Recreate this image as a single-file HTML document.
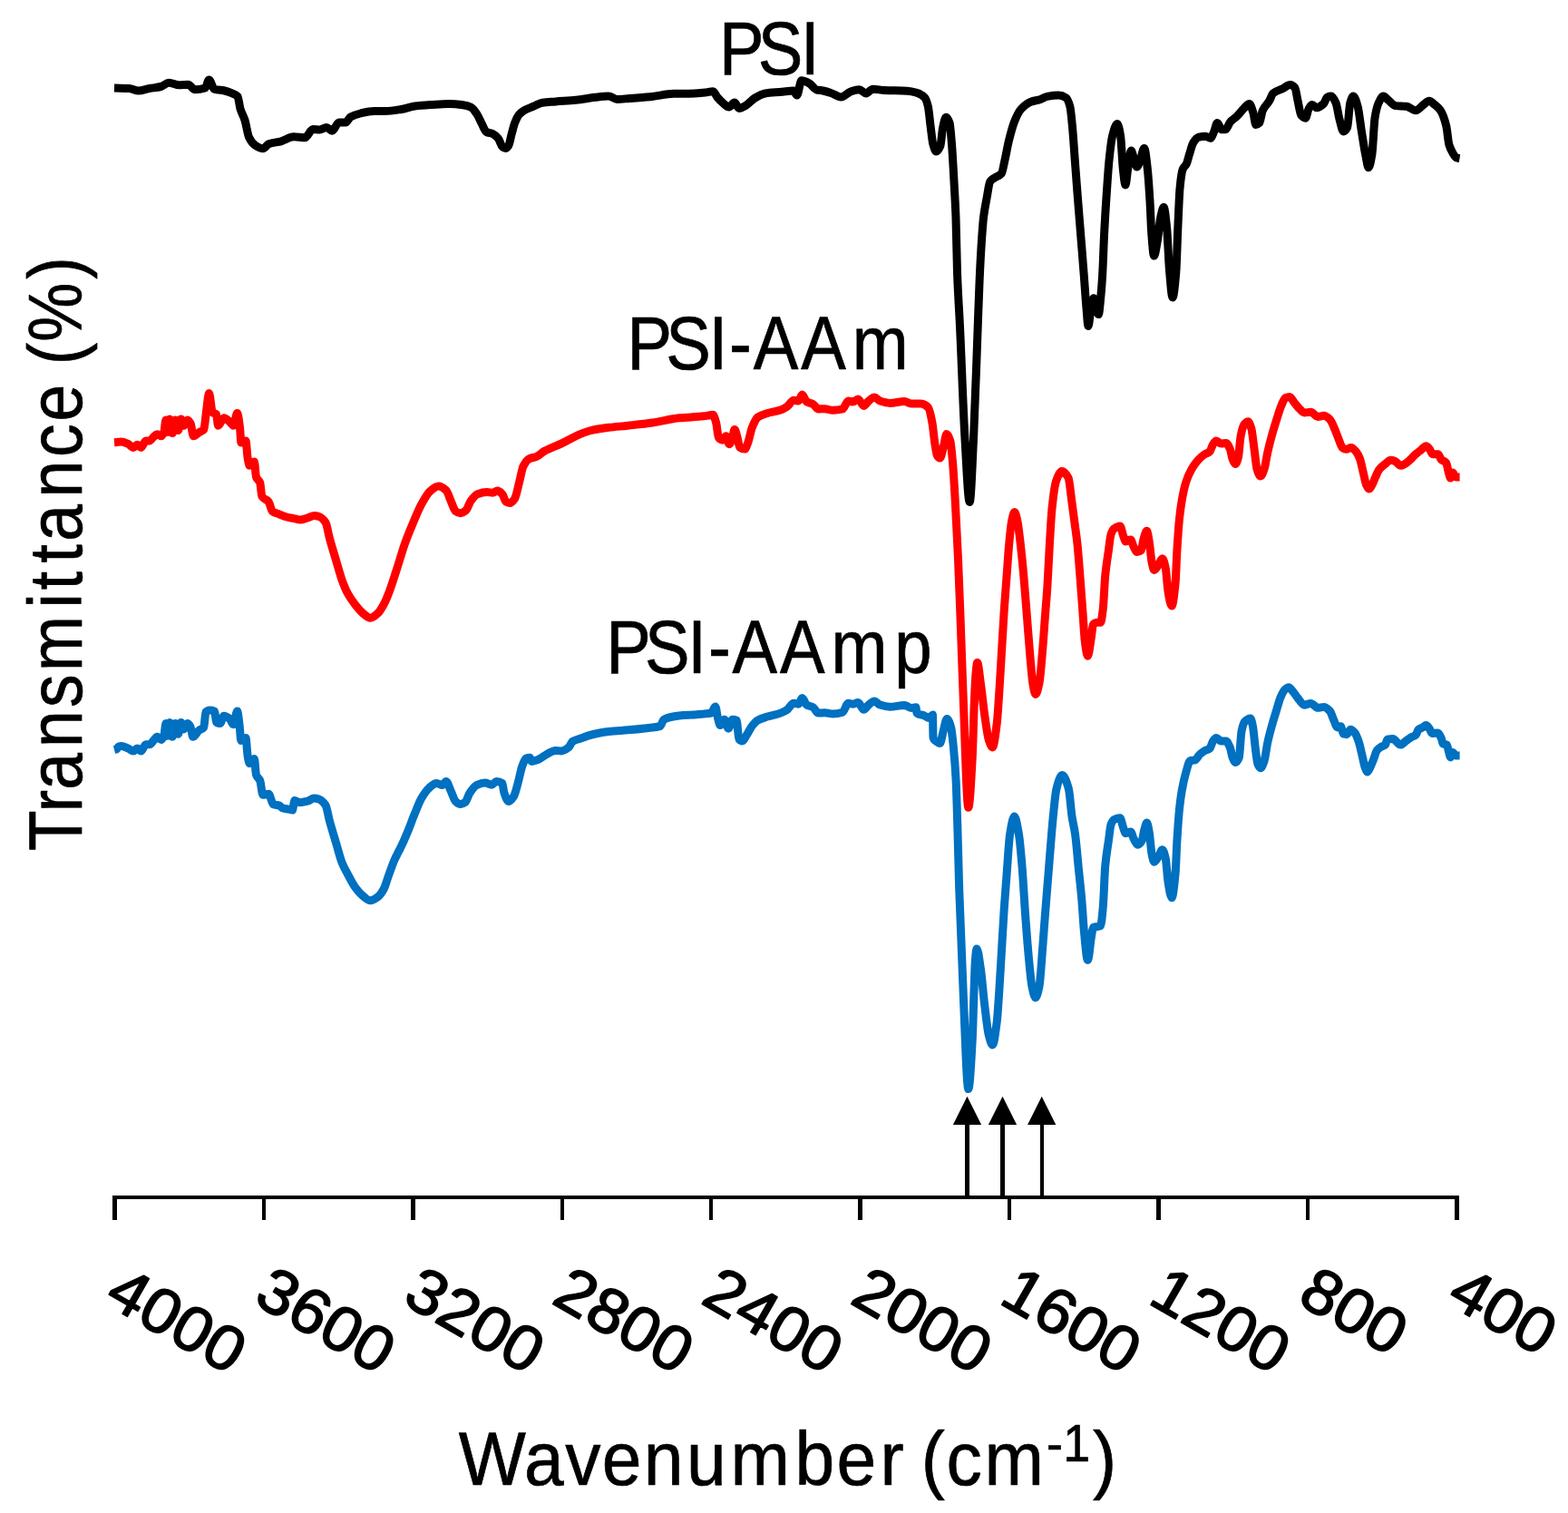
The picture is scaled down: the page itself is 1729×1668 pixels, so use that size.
<!DOCTYPE html>
<html lang="en"><head><meta charset="utf-8"><title>FTIR spectra</title>
<style>html,body{margin:0;padding:0;background:#fff;width:1729px;height:1668px}svg{display:block}text{font-family:"Liberation Sans",sans-serif;fill:#000}</style></head><body>
<svg width="1729" height="1668" viewBox="0 0 1729 1668">
<rect width="1729" height="1668" fill="#fff"/>
<path d="M126.0,826.5C126.8,826.3 127.7,826.3 128.5,826.0C129.3,825.7 130.2,823.3 131.0,823.0C131.9,822.7 132.7,822.4 133.6,822.4C136.0,822.4 138.5,823.9 140.9,824.9C143.0,825.8 145.1,828.1 147.2,828.1C148.6,828.1 150.0,824.9 151.4,824.9C152.8,824.9 154.2,828.1 155.6,828.1C157.3,828.1 159.1,820.7 160.8,820.7C162.2,820.7 163.6,820.7 165.0,820.7C166.4,820.7 167.8,817.9 169.2,816.5C170.6,815.1 172.0,812.3 173.4,812.3C174.8,812.3 176.2,815.5 177.6,815.5C178.7,815.5 179.7,813.7 180.8,811.3C181.5,809.7 182.2,797.6 182.9,797.6C183.6,797.6 184.3,811.3 185.0,811.3C185.7,811.3 186.4,796.6 187.1,796.6C188.1,796.6 189.2,812.3 190.2,812.3C191.3,812.3 192.3,797.6 193.4,797.6C194.4,797.6 195.5,809.2 196.5,809.2C197.6,809.2 198.6,796.6 199.7,796.6C200.7,796.6 201.8,803.9 202.8,803.9C204.2,803.9 205.6,797.6 207.0,797.6C208.1,797.6 209.1,799.6 210.2,801.8C211.0,803.5 211.9,812.3 212.7,812.3C215.0,812.3 217.3,806.8 219.6,805.0C221.3,803.7 223.1,804.1 224.8,801.8C225.5,800.9 226.2,785.7 226.9,785.0C228.3,783.5 229.7,782.9 231.1,782.9C232.9,782.9 234.6,783.2 236.4,784.0C237.2,784.4 238.1,796.2 238.9,796.6C240.2,797.3 241.4,797.6 242.7,797.6C244.1,797.6 245.5,789.2 246.9,789.2C249.0,789.2 251.1,790.8 253.2,792.4C254.6,793.5 256.0,798.7 257.4,798.7C258.8,798.7 260.2,784.0 261.6,784.0C262.4,784.0 263.3,793.2 264.1,799.7C264.7,804.1 265.2,816.5 265.8,816.5C267.5,816.5 269.3,813.4 271.0,813.4C271.7,813.4 272.4,829.4 273.1,833.3C273.8,837.2 274.5,841.7 275.2,841.7C276.9,841.7 278.7,836.5 280.4,836.5C281.1,836.5 281.8,852.4 282.5,854.3C283.9,858.2 285.3,857.3 286.7,860.6C287.8,863.1 288.8,876.3 289.9,876.3C292.0,876.3 294.1,875.3 296.2,875.3C297.9,875.3 299.7,886.2 301.4,886.8C303.5,887.5 305.6,887.3 307.7,887.9C309.1,888.3 310.5,890.6 311.9,891.0C314.0,891.6 316.1,891.7 318.2,892.1C319.6,892.4 321.0,893.1 322.4,893.1C323.2,893.1 324.1,882.6 324.9,882.6C326.9,882.6 328.8,884.7 330.8,884.7C333.6,884.7 336.4,883.9 339.2,883.2C341.6,882.6 344.1,879.9 346.5,879.9C348.3,879.9 350.0,880.5 351.8,881.1C354.2,882.0 356.7,884.0 359.1,887.9C360.5,890.1 361.9,899.4 363.3,904.6C365.8,913.7 368.2,921.5 370.7,929.8C372.8,936.9 374.9,945.5 377.0,950.8C379.1,956.0 381.1,959.5 383.2,963.4C386.0,968.7 388.8,974.3 391.6,978.1C394.4,981.9 397.2,985.2 400.0,987.5C402.8,989.8 405.6,992.8 408.4,992.8C411.2,992.8 414.0,990.7 416.8,988.6C418.9,987.0 421.0,984.0 423.1,980.2C424.9,977.0 426.6,970.3 428.4,965.5C430.7,959.4 432.9,952.6 435.2,947.5C436.6,944.3 438.0,941.9 439.4,939.1C440.8,936.3 442.2,933.7 443.6,930.7C445.7,926.2 447.8,921.1 449.9,916.0C452.4,910.0 454.8,903.1 457.3,897.1C459.7,891.2 462.2,884.5 464.6,880.3C467.4,875.5 470.2,871.2 473.0,868.8C475.8,866.4 478.6,863.5 481.4,863.5C483.5,863.5 485.6,865.6 487.7,865.6C489.1,865.6 490.5,861.4 491.9,861.4C493.6,861.4 495.4,868.3 497.1,871.9C498.9,875.6 500.6,881.8 502.4,883.5C504.1,885.1 505.9,886.6 507.6,886.6C509.4,886.6 511.1,885.7 512.9,884.5C514.6,883.3 516.4,876.6 518.1,874.0C520.6,870.4 523.0,866.7 525.5,865.6C528.6,864.2 531.8,863.1 534.9,863.1C537.4,863.1 539.8,865.2 542.3,865.2C544.0,865.2 545.8,861.4 547.5,861.4C549.6,861.4 551.7,862.0 553.8,863.5C554.5,864.0 555.2,872.0 555.9,874.0C557.6,879.0 559.4,883.5 561.1,883.5C562.9,883.5 564.6,880.9 566.4,878.2C568.1,875.5 569.9,867.6 571.6,861.4C573.0,856.4 574.4,848.3 575.8,844.6C577.2,840.9 578.6,836.8 580.0,836.2C581.4,835.6 582.8,835.2 584.2,835.2C584.9,835.2 585.6,839.4 586.3,839.4C588.8,839.4 591.2,838.3 593.7,837.3C596.5,836.2 599.2,833.6 602.0,832.1C605.5,830.3 609.0,827.4 612.5,827.4C614.6,827.4 616.7,827.9 618.8,827.9C621.6,827.9 624.4,825.9 627.2,823.7C628.6,822.6 630.0,818.3 631.4,817.4C634.2,815.6 637.0,815.2 639.8,814.2C644.0,812.7 648.2,811.0 652.4,810.0C658.7,808.5 665.0,807.2 671.3,806.5C678.3,805.7 685.3,805.4 692.3,804.8C699.3,804.2 706.3,803.5 713.3,802.7C718.2,802.1 723.0,802.1 727.9,800.6C729.3,800.2 730.7,793.9 732.1,793.2C737.7,790.3 743.3,789.6 748.9,789.0C754.5,788.4 760.1,788.3 765.7,787.9C769.2,787.6 772.7,787.3 776.2,787.0C778.9,786.7 781.6,786.7 784.3,786.1C785.8,785.8 787.3,778.9 788.8,778.9C789.7,778.9 790.6,788.2 791.5,791.5C792.4,794.8 793.3,799.6 794.2,799.6C795.7,799.6 797.2,793.3 798.7,793.3C800.2,793.3 801.7,803.2 803.2,803.2C804.7,803.2 806.2,793.3 807.7,793.3C809.2,793.3 810.7,793.6 812.2,794.2C813.1,794.6 814.0,813.8 814.9,814.9C816.1,816.3 817.3,817.1 818.5,817.1C820.3,817.1 822.0,812.2 823.8,809.5C825.6,806.7 827.4,802.8 829.2,800.5C831.3,797.9 833.4,795.4 835.5,794.2C839.1,792.1 842.7,791.3 846.3,790.1C851.1,788.5 855.9,787.9 860.7,786.1C863.1,785.2 865.5,784.1 867.9,782.5C870.3,780.9 872.7,775.3 875.1,775.3C876.9,775.3 878.7,776.2 880.5,776.2C881.8,776.2 883.2,769.4 884.5,769.4C886.2,769.4 887.8,776.1 889.5,777.1C891.9,778.6 894.3,778.4 896.7,779.8C898.5,780.8 900.3,786.1 902.1,786.1C904.5,786.1 906.9,785.8 909.3,785.8C912.3,785.8 915.3,787.0 918.3,787.0C921.9,787.0 925.5,786.4 929.1,785.2C931.2,784.5 933.3,775.3 935.4,775.3C937.2,775.3 939.0,776.2 940.8,776.2C942.6,776.2 944.4,774.4 946.2,774.4C948.3,774.4 950.3,782.2 952.4,782.2C954.2,782.2 956.0,778.5 957.8,777.1C959.9,775.5 962.0,773.0 964.1,773.0C966.2,773.0 968.3,776.4 970.4,777.1C974.0,778.3 977.6,779.3 981.2,779.3C986.6,779.3 992.0,777.5 997.4,777.5C999.8,777.5 1002.2,780.4 1004.6,780.4C1006.4,780.4 1008.2,779.8 1010.0,779.8C1010.3,779.8 1010.6,785.8 1010.9,786.1C1013.6,788.4 1016.3,787.7 1019.0,788.8C1020.8,789.5 1022.6,791.5 1024.4,791.5C1025.8,791.5 1027.1,788.0 1028.5,788.0C1028.7,788.0 1028.8,812.5 1029.0,813.1C1029.9,816.1 1030.7,816.0 1031.6,816.7C1033.2,818.0 1034.9,819.4 1036.5,819.4C1037.7,819.4 1039.0,810.2 1040.2,805.9C1041.5,801.2 1042.9,792.4 1044.2,792.4C1045.7,792.4 1047.2,796.9 1048.7,802.3C1049.6,805.6 1050.5,814.9 1051.4,823.9C1052.3,832.9 1053.2,842.9 1054.1,859.9C1054.7,871.3 1055.3,894.0 1055.9,913.8C1056.5,933.6 1057.1,961.4 1057.7,980.0C1059.3,1028.5 1060.8,1066.0 1062.4,1099.9C1064.2,1138.8 1066.0,1200.6 1067.8,1200.6C1069.3,1200.6 1070.8,1172.8 1072.3,1144.8C1072.9,1133.6 1073.5,1107.3 1074.1,1090.9C1074.5,1079.9 1074.9,1065.3 1075.3,1060.3C1075.9,1052.7 1076.5,1045.9 1077.1,1045.9C1078.5,1045.9 1079.9,1058.3 1081.3,1067.5C1082.8,1077.4 1084.3,1096.7 1085.8,1108.8C1087.3,1120.9 1088.8,1135.5 1090.3,1141.2C1091.7,1146.4 1093.0,1152.0 1094.4,1152.0C1096.0,1152.0 1097.6,1139.4 1099.2,1126.8C1100.1,1119.7 1101.0,1104.2 1101.9,1090.9C1102.8,1077.6 1103.7,1060.9 1104.6,1045.9C1105.5,1030.9 1106.4,1014.2 1107.3,1000.9C1108.2,987.6 1109.1,976.6 1110.0,965.0C1111.2,949.5 1112.4,927.6 1113.6,920.0C1115.2,909.7 1116.9,900.0 1118.5,900.0C1120.2,900.0 1121.8,910.2 1123.5,920.0C1124.7,927.0 1125.9,941.6 1127.1,956.0C1128.3,970.4 1129.5,993.6 1130.7,1009.9C1131.9,1026.2 1133.1,1042.3 1134.3,1054.9C1135.5,1067.5 1136.7,1081.7 1137.9,1087.3C1139.2,1093.6 1140.6,1099.9 1141.9,1099.9C1143.3,1099.9 1144.6,1094.0 1146.0,1087.3C1147.2,1081.4 1148.4,1060.8 1149.6,1045.9C1150.5,1034.7 1151.4,1021.5 1152.3,1009.9C1153.5,994.4 1154.7,980.0 1155.9,965.0C1157.1,950.0 1158.3,934.0 1159.5,920.0C1160.1,913.0 1160.7,905.8 1161.3,900.0C1162.5,888.3 1163.7,874.6 1164.9,869.8C1167.0,861.5 1169.1,854.5 1171.2,854.5C1173.6,854.5 1176.0,861.1 1178.4,869.8C1179.6,874.2 1180.8,892.0 1182.0,900.0C1183.2,908.0 1184.4,911.4 1185.6,920.0C1186.8,928.6 1188.0,944.0 1189.2,956.0C1190.4,968.0 1191.6,978.1 1192.8,991.9C1193.7,1002.2 1194.6,1018.9 1195.5,1027.9C1196.8,1040.9 1198.1,1058.5 1199.4,1058.5C1200.8,1058.5 1202.2,1039.2 1203.6,1031.5C1204.2,1028.2 1204.8,1022.8 1205.4,1022.5C1206.9,1021.8 1208.4,1021.9 1209.9,1021.6C1211.1,1021.3 1212.3,1021.3 1213.5,1020.7C1214.4,1020.2 1215.3,1010.3 1216.2,1000.9C1217.1,991.8 1217.9,963.2 1218.8,953.8C1220.0,940.8 1221.2,935.2 1222.4,926.8C1223.3,920.5 1224.2,911.0 1225.1,908.8C1226.3,905.8 1227.5,904.1 1228.7,903.5C1230.8,902.4 1232.9,901.7 1235.0,901.7C1236.2,901.7 1237.4,909.3 1238.6,912.4C1239.5,914.7 1240.4,918.7 1241.3,918.7C1243.1,918.7 1244.9,916.9 1246.7,916.9C1247.9,916.9 1249.1,922.9 1250.3,925.0C1251.8,927.6 1253.2,931.3 1254.7,931.3C1256.2,931.3 1257.7,929.4 1259.2,926.8C1260.1,925.2 1261.0,917.2 1261.9,914.2C1262.8,911.2 1263.7,907.1 1264.6,907.1C1265.5,907.1 1266.4,912.9 1267.3,917.8C1268.2,922.7 1269.1,936.9 1270.0,941.2C1270.9,945.5 1271.8,950.2 1272.7,950.2C1274.2,950.2 1275.7,947.0 1277.2,944.8C1278.7,942.6 1280.2,936.7 1281.7,936.7C1282.9,936.7 1284.1,941.4 1285.3,946.6C1286.2,950.5 1287.1,966.2 1288.0,971.8C1289.3,980.1 1290.7,989.8 1292.0,989.8C1293.4,989.8 1294.7,977.3 1296.1,962.8C1296.7,956.4 1297.3,936.5 1297.9,926.8C1298.8,912.2 1299.7,899.4 1300.6,890.9C1301.5,882.4 1302.4,876.2 1303.3,871.1C1304.8,862.7 1306.3,856.4 1307.8,851.3C1309.3,846.2 1310.8,839.2 1312.3,838.7C1314.1,838.1 1315.9,838.3 1317.7,837.8C1319.5,837.3 1321.3,833.1 1323.1,831.5C1324.9,829.9 1326.7,828.6 1328.5,827.6C1330.3,826.6 1332.1,826.6 1333.9,825.2C1335.1,824.3 1336.3,818.8 1337.5,817.1C1338.7,815.4 1339.9,813.5 1341.1,813.5C1342.9,813.5 1344.7,817.1 1346.5,817.1C1348.3,817.1 1350.1,817.1 1351.9,817.1C1353.4,817.1 1354.9,820.7 1356.4,824.3C1357.3,826.4 1358.2,832.9 1359.1,835.1C1360.2,837.7 1361.2,840.5 1362.3,840.5C1363.6,840.5 1365.0,838.5 1366.3,835.1C1367.2,832.8 1368.1,810.6 1369.0,806.3C1370.2,800.5 1371.4,796.7 1372.6,795.5C1374.7,793.4 1376.7,791.9 1378.8,791.9C1379.7,791.9 1380.6,796.6 1381.5,800.9C1382.4,805.2 1383.3,817.5 1384.2,824.3C1385.1,831.1 1386.0,840.1 1386.9,842.3C1387.9,844.8 1389.0,846.8 1390.0,846.8C1391.4,846.8 1392.7,842.7 1394.1,838.7C1395.3,835.2 1396.5,824.5 1397.7,818.9C1399.2,811.9 1400.7,806.4 1402.2,800.9C1404.0,794.3 1405.8,788.8 1407.6,782.9C1409.1,778.0 1410.6,772.0 1412.1,768.6C1413.6,765.2 1415.1,761.9 1416.6,760.5C1418.1,759.1 1419.6,757.8 1421.1,757.8C1422.6,757.8 1424.1,760.6 1425.6,762.3C1427.4,764.3 1429.2,767.4 1431.0,769.5C1433.4,772.4 1435.8,777.2 1438.2,777.2C1440.6,777.2 1443.0,775.4 1445.4,775.4C1448.0,775.4 1450.6,780.3 1453.2,780.3C1455.4,780.3 1457.6,779.4 1459.8,779.4C1462.0,779.4 1464.2,781.5 1466.4,783.9C1467.8,785.4 1469.2,790.5 1470.6,793.5C1472.0,796.5 1473.4,801.9 1474.8,801.9C1476.0,801.9 1477.2,800.7 1478.4,800.7C1479.4,800.7 1480.4,808.8 1481.4,809.1C1482.6,809.5 1483.8,809.7 1485.0,809.7C1486.4,809.7 1487.8,804.3 1489.2,804.3C1490.8,804.3 1492.4,806.1 1494.0,807.9C1495.4,809.5 1496.8,813.4 1498.2,817.5C1499.4,821.0 1500.6,827.0 1501.8,831.9C1503.0,836.6 1504.1,843.2 1505.3,846.3C1506.1,848.4 1506.9,851.1 1507.7,851.1C1508.7,851.1 1509.7,848.2 1510.7,846.3C1511.9,844.0 1513.1,840.8 1514.3,837.9C1515.7,834.5 1517.1,828.9 1518.5,827.1C1519.9,825.3 1521.3,824.4 1522.7,823.5C1524.3,822.5 1525.9,822.5 1527.5,821.1C1528.3,820.4 1529.1,815.3 1529.9,815.1C1531.9,814.7 1533.9,814.5 1535.9,814.5C1538.7,814.5 1541.5,821.1 1544.3,821.1C1546.3,821.1 1548.3,818.3 1550.3,816.9C1552.3,815.5 1554.3,813.9 1556.3,812.7C1557.9,811.8 1559.5,811.6 1561.1,810.3C1562.1,809.5 1563.1,805.1 1564.1,804.3C1565.7,803.0 1567.3,802.8 1568.9,801.9C1570.1,801.2 1571.3,799.5 1572.5,799.5C1573.7,799.5 1574.9,801.5 1576.1,803.1C1577.1,804.4 1578.1,808.5 1579.1,808.5C1581.1,808.5 1583.1,807.9 1585.1,807.9C1586.5,807.9 1587.9,810.9 1589.3,813.9C1589.9,815.2 1590.5,819.5 1591.1,819.9C1592.5,820.7 1593.9,820.3 1595.3,821.1C1596.1,821.6 1596.9,826.9 1597.7,829.5C1598.3,831.4 1598.9,834.9 1599.5,834.9C1600.3,834.9 1601.1,829.5 1601.9,829.5C1602.9,829.5 1603.9,832.6 1604.9,832.8C1605.6,833.0 1606.3,833.1 1607.0,833.1C1607.9,833.1 1608.7,833.1 1609.6,833.1" fill="none" stroke="#0070c0" stroke-width="9.00" stroke-linejoin="round" stroke-linecap="butt"/>
<path d="M126.0,487.7C128.5,487.5 131.1,487.1 133.6,487.1C136.0,487.1 138.5,488.2 140.9,489.2C143.0,490.1 145.1,493.4 147.2,493.4C148.6,493.4 150.0,490.2 151.4,490.2C152.8,490.2 154.2,493.4 155.6,493.4C157.3,493.4 159.1,486.0 160.8,486.0C162.2,486.0 163.6,486.0 165.0,486.0C166.4,486.0 167.8,483.0 169.2,481.8C170.6,480.6 172.0,478.7 173.4,478.7C174.8,478.7 176.2,480.8 177.6,480.8C178.7,480.8 179.7,479.0 180.8,476.6C181.5,475.0 182.2,462.9 182.9,462.9C183.6,462.9 184.3,476.6 185.0,476.6C185.7,476.6 186.4,461.9 187.1,461.9C188.1,461.9 189.2,477.6 190.2,477.6C191.3,477.6 192.3,462.9 193.4,462.9C194.4,462.9 195.5,474.5 196.5,474.5C197.6,474.5 198.6,461.9 199.7,461.9C200.7,461.9 201.8,469.2 202.8,469.2C204.2,469.2 205.6,462.9 207.0,462.9C208.1,462.9 209.1,464.9 210.2,467.1C211.2,469.2 212.3,480.8 213.3,480.8C215.4,480.8 217.5,477.9 219.6,476.6C221.3,475.5 223.1,475.6 224.8,473.4C225.7,472.2 226.7,459.0 227.6,452.5C228.6,445.8 229.5,433.6 230.5,433.6C231.8,433.6 233.0,453.4 234.3,454.6C235.7,455.9 237.1,455.3 238.5,456.7C239.2,457.4 239.9,469.2 240.6,469.2C242.7,469.2 244.8,460.8 246.9,460.8C249.0,460.8 251.1,463.3 253.2,465.0C254.6,466.1 256.0,469.2 257.4,469.2C258.8,469.2 260.2,455.6 261.6,455.6C262.6,455.6 263.7,464.5 264.7,473.4C265.1,476.5 265.4,488.1 265.8,488.1C267.5,488.1 269.3,486.0 271.0,486.0C271.7,486.0 272.4,501.0 273.1,504.9C273.8,508.8 274.5,513.3 275.2,513.3C276.9,513.3 278.7,509.1 280.4,509.1C281.1,509.1 281.8,524.0 282.5,525.9C283.9,529.7 285.3,528.5 286.7,532.2C287.4,534.1 288.1,545.7 288.8,546.9C291.3,551.3 293.7,549.9 296.2,553.2C297.6,555.1 299.0,562.6 300.4,563.7C302.8,565.6 305.3,565.8 307.7,566.8C310.5,567.9 313.3,569.3 316.1,570.0C318.9,570.7 321.7,571.0 324.5,571.6C326.6,572.0 328.7,573.1 330.8,573.1C333.6,573.1 336.4,571.8 339.2,571.0C341.6,570.3 344.1,568.5 346.5,568.5C348.3,568.5 350.0,569.0 351.8,569.5C354.2,570.2 356.7,572.4 359.1,576.2C360.5,578.4 361.9,587.8 363.3,593.0C365.8,602.1 368.2,609.9 370.7,618.2C372.8,625.3 374.9,633.4 377.0,639.2C379.1,644.9 381.1,650.1 383.2,653.9C386.0,659.1 388.8,662.9 391.6,666.5C394.4,670.1 397.2,673.6 400.0,675.9C402.8,678.2 405.6,681.2 408.4,681.2C411.2,681.2 414.0,678.4 416.8,675.9C418.9,674.0 421.0,670.3 423.1,666.5C425.2,662.7 427.3,657.3 429.4,651.8C432.2,644.5 435.0,635.2 437.8,626.6C440.8,617.4 443.8,606.6 446.8,598.2C449.6,590.4 452.4,583.8 455.2,577.2C458.3,569.8 461.5,561.9 464.6,556.2C467.8,550.4 470.9,544.4 474.1,541.6C477.2,538.9 480.4,535.9 483.5,535.9C486.3,535.9 489.1,537.9 491.9,540.5C493.6,542.1 495.4,548.3 497.1,552.1C498.9,556.0 500.6,562.4 502.4,563.6C504.1,564.8 505.9,565.7 507.6,565.7C509.7,565.7 511.8,564.2 513.9,562.5C515.7,561.0 517.4,554.5 519.2,552.1C521.6,548.8 524.1,545.5 526.5,544.7C530.0,543.5 533.5,542.6 537.0,542.6C539.1,542.6 541.2,543.2 543.3,543.2C545.0,543.2 546.8,541.1 548.5,541.1C550.3,541.1 552.0,542.9 553.8,544.7C555.2,546.1 556.6,552.3 558.0,553.1C559.4,553.9 560.8,554.6 562.2,554.6C563.9,554.6 565.7,552.5 567.4,550.0C569.2,547.5 570.9,537.8 572.7,531.1C574.1,525.8 575.5,517.2 576.9,514.3C579.0,510.0 581.1,507.0 583.2,505.9C586.0,504.5 588.8,504.6 591.6,503.4C594.4,502.2 597.2,499.1 600.0,497.5C606.3,494.0 612.5,492.1 618.8,489.1C625.8,485.8 632.8,481.4 639.8,478.6C644.0,476.9 648.2,475.3 652.4,474.4C658.7,473.0 665.0,472.1 671.3,471.3C678.3,470.4 685.3,470.0 692.3,469.2C701.4,468.2 710.5,467.3 719.6,466.0C729.4,464.6 739.1,461.8 748.9,460.8C758.0,459.9 767.1,459.8 776.2,458.8C779.5,458.5 782.8,457.3 786.1,457.3C787.3,457.3 788.5,462.0 789.7,466.3C790.6,469.5 791.5,481.4 792.4,482.5C793.9,484.3 795.4,485.2 796.9,485.2C798.1,485.2 799.3,480.7 800.5,480.7C801.7,480.7 802.9,489.7 804.1,489.7C805.3,489.7 806.5,485.8 807.7,482.5C808.5,480.4 809.2,473.5 810.0,473.5C811.0,473.5 812.1,479.0 813.1,482.5C814.0,485.5 814.9,492.7 815.8,493.3C817.6,494.5 819.4,495.1 821.2,495.1C822.4,495.1 823.6,491.0 824.8,487.9C826.3,484.1 827.7,475.4 829.2,471.7C831.3,466.4 833.4,461.5 835.5,460.0C839.1,457.4 842.7,456.6 846.3,455.5C851.1,454.0 855.9,453.6 860.7,452.0C863.1,451.2 865.5,449.9 867.9,448.3C870.3,446.7 872.7,441.2 875.1,441.2C876.9,441.2 878.7,442.1 880.5,442.1C881.8,442.1 883.2,434.9 884.5,434.9C886.2,434.9 887.8,441.8 889.5,442.9C891.9,444.4 894.3,444.3 896.7,445.6C898.5,446.6 900.3,451.0 902.1,451.0C904.5,451.0 906.9,450.7 909.3,450.7C912.3,450.7 915.3,452.3 918.3,452.3C921.9,452.3 925.5,451.9 929.1,451.0C931.2,450.5 933.3,442.1 935.4,442.1C937.2,442.1 939.0,442.9 940.8,442.9C942.6,442.9 944.4,439.9 946.2,439.9C948.3,439.9 950.3,447.4 952.4,447.4C954.2,447.4 956.0,443.5 957.8,442.1C959.9,440.4 962.0,437.9 964.1,437.9C966.2,437.9 968.3,441.4 970.4,442.1C974.0,443.3 977.6,444.4 981.2,444.4C986.6,444.4 992.0,442.6 997.4,442.6C999.8,442.6 1002.2,445.1 1004.6,445.1C1008.2,445.1 1011.8,445.1 1015.4,445.1C1018.1,445.1 1020.8,446.6 1023.5,449.2C1025.0,450.6 1026.5,458.3 1028.0,466.3C1028.9,471.1 1029.8,482.1 1030.7,487.9C1031.6,493.7 1032.5,500.9 1033.4,502.3C1034.4,503.9 1035.5,505.0 1036.5,505.0C1037.9,505.0 1039.2,496.5 1040.6,491.5C1041.7,487.6 1042.7,478.6 1043.8,478.6C1045.1,478.6 1046.5,481.8 1047.8,486.1C1048.7,489.0 1049.6,499.5 1050.5,509.5C1051.4,519.5 1052.3,535.4 1053.2,550.9C1054.3,569.2 1055.3,590.0 1056.4,613.8C1057.3,633.1 1058.1,657.0 1059.0,680.0C1060.2,711.8 1061.4,750.8 1062.6,779.9C1064.3,821.9 1066.1,890.3 1067.8,890.3C1069.3,890.3 1070.8,862.0 1072.3,833.8C1072.9,822.5 1073.5,794.3 1074.1,779.9C1074.7,765.5 1075.3,750.4 1075.9,743.9C1076.5,737.4 1077.1,730.4 1077.7,730.4C1078.9,730.4 1080.1,744.5 1081.3,752.9C1082.8,763.4 1084.3,778.5 1085.8,788.8C1087.3,799.1 1088.8,811.4 1090.3,815.8C1091.7,819.8 1093.0,823.9 1094.4,823.9C1096.0,823.9 1097.6,810.7 1099.2,797.8C1100.1,790.6 1101.0,775.2 1101.9,761.9C1102.8,748.6 1103.7,731.9 1104.6,716.9C1105.5,701.9 1106.4,685.2 1107.3,671.9C1108.2,658.6 1109.1,648.0 1110.0,636.0C1110.9,624.0 1111.8,609.6 1112.7,600.0C1113.6,590.0 1114.6,579.6 1115.5,575.0C1116.6,569.8 1117.6,564.4 1118.7,564.4C1119.8,564.4 1120.9,570.0 1122.0,575.0C1123.1,580.0 1124.2,590.5 1125.3,600.0C1126.5,610.3 1127.7,622.7 1128.9,636.0C1130.1,649.3 1131.3,665.9 1132.5,680.9C1133.7,695.9 1134.9,712.6 1136.1,725.9C1137.0,735.8 1137.9,747.6 1138.8,752.9C1139.8,758.9 1140.9,765.5 1141.9,765.5C1143.3,765.5 1144.6,759.4 1146.0,752.9C1147.2,747.2 1148.4,730.7 1149.6,716.9C1150.5,706.5 1151.4,692.9 1152.3,680.9C1153.2,668.9 1154.1,659.1 1155.0,645.0C1155.8,632.5 1156.6,613.4 1157.4,600.0C1158.3,585.5 1159.1,569.1 1160.0,560.8C1161.5,546.1 1163.1,534.5 1164.6,530.2C1166.7,524.3 1168.8,519.4 1170.9,519.4C1173.3,519.4 1175.6,522.1 1178.0,526.6C1179.2,529.0 1180.5,543.0 1181.7,551.8C1182.9,560.4 1184.1,569.6 1185.3,578.8C1186.2,585.7 1187.1,591.5 1188.0,600.0C1189.0,609.5 1190.0,623.4 1191.0,636.0C1191.9,647.4 1192.8,659.9 1193.7,671.9C1194.6,683.9 1195.5,701.2 1196.4,707.9C1197.4,715.3 1198.4,723.2 1199.4,723.2C1200.8,723.2 1202.2,709.4 1203.6,700.7C1204.2,697.0 1204.8,688.6 1205.4,688.1C1206.9,686.8 1208.4,686.3 1209.9,686.3C1211.1,686.3 1212.3,686.3 1213.5,686.3C1214.4,686.3 1215.3,679.0 1216.2,671.9C1217.1,665.1 1217.9,642.6 1218.8,633.8C1220.0,621.7 1221.2,615.2 1222.4,606.8C1223.3,600.5 1224.2,591.3 1225.1,588.8C1226.3,585.4 1227.5,583.5 1228.7,582.6C1230.8,581.1 1232.9,579.9 1235.0,579.9C1236.2,579.9 1237.4,587.5 1238.6,590.6C1239.5,592.9 1240.4,596.9 1241.3,596.9C1243.1,596.9 1244.9,595.1 1246.7,595.1C1247.9,595.1 1249.1,601.0 1250.3,603.2C1251.5,605.3 1252.6,608.6 1253.8,608.6C1255.3,608.6 1256.8,608.0 1258.3,606.8C1259.2,606.1 1260.1,597.2 1261.0,594.2C1262.2,590.3 1263.4,585.3 1264.6,585.3C1265.5,585.3 1266.4,592.5 1267.3,597.8C1268.2,603.1 1269.1,615.2 1270.0,619.4C1270.9,623.6 1271.8,628.4 1272.7,628.4C1274.2,628.4 1275.7,625.1 1277.2,623.0C1278.7,620.9 1280.2,615.8 1281.7,615.8C1282.9,615.8 1284.1,621.0 1285.3,626.6C1286.2,630.8 1287.1,646.6 1288.0,651.8C1289.3,659.5 1290.7,668.0 1292.0,668.0C1293.4,668.0 1294.7,656.6 1296.1,642.8C1296.7,636.7 1297.3,616.5 1297.9,606.8C1298.8,592.2 1299.7,579.4 1300.6,570.9C1301.5,562.4 1302.4,556.2 1303.3,551.1C1304.8,542.7 1306.3,535.9 1307.8,531.3C1309.9,524.9 1312.0,520.5 1314.1,516.9C1316.5,512.8 1318.9,509.6 1321.3,507.0C1323.7,504.4 1326.1,502.2 1328.5,500.7C1330.3,499.6 1332.1,499.5 1333.9,498.0C1335.1,497.0 1336.3,491.7 1337.5,489.9C1338.7,488.1 1339.9,486.0 1341.1,486.0C1342.9,486.0 1344.7,489.0 1346.5,489.0C1348.3,489.0 1350.1,488.5 1351.9,488.5C1353.4,488.5 1354.9,491.9 1356.4,495.3C1357.3,497.4 1358.2,503.9 1359.1,506.1C1360.2,508.7 1361.2,511.5 1362.3,511.5C1363.3,511.5 1364.4,508.1 1365.4,504.3C1366.3,501.0 1367.2,485.5 1368.1,480.9C1369.3,474.8 1370.5,469.9 1371.7,468.3C1373.2,466.3 1374.7,464.7 1376.2,464.7C1377.4,464.7 1378.5,468.2 1379.7,471.9C1380.9,475.7 1382.1,488.5 1383.3,497.1C1384.2,503.6 1385.1,513.9 1386.0,516.9C1387.3,521.3 1388.7,525.0 1390.0,525.0C1391.4,525.0 1392.7,520.8 1394.1,516.9C1395.3,513.5 1396.5,504.3 1397.7,498.9C1399.2,492.2 1400.7,486.4 1402.2,480.9C1404.0,474.3 1405.8,468.6 1407.6,462.9C1409.4,457.2 1411.2,450.8 1413.0,446.8C1414.5,443.5 1416.0,439.4 1417.5,438.7C1419.0,438.0 1420.5,437.4 1422.0,437.4C1423.8,437.4 1425.6,441.9 1427.4,444.1C1429.2,446.3 1431.0,448.7 1432.8,450.4C1434.6,452.1 1436.4,454.9 1438.2,454.9C1440.6,454.9 1443.0,454.3 1445.4,454.3C1448.0,454.3 1450.6,459.4 1453.2,459.4C1455.4,459.4 1457.6,458.2 1459.8,458.2C1462.0,458.2 1464.2,460.2 1466.4,462.4C1468.2,464.2 1470.0,469.0 1471.8,473.1C1473.2,476.3 1474.6,480.5 1476.0,483.9C1477.4,487.3 1478.8,492.5 1480.2,493.5C1481.6,494.5 1483.0,495.3 1484.4,495.3C1486.2,495.3 1488.0,493.5 1489.8,493.5C1491.6,493.5 1493.4,495.7 1495.2,497.7C1496.6,499.3 1498.0,501.9 1499.4,505.5C1500.6,508.6 1501.8,515.0 1503.0,519.9C1504.2,524.6 1505.3,531.6 1506.5,534.3C1507.5,536.6 1508.5,539.1 1509.5,539.1C1510.7,539.1 1511.9,536.3 1513.1,534.3C1514.3,532.3 1515.5,528.5 1516.7,525.9C1518.1,522.9 1519.5,519.3 1520.9,517.5C1523.1,514.7 1525.3,513.2 1527.5,511.5C1529.5,509.9 1531.5,507.3 1533.5,507.3C1535.1,507.3 1536.7,507.9 1538.3,508.5C1540.3,509.2 1542.3,513.3 1544.3,513.3C1545.9,513.3 1547.5,512.3 1549.1,511.5C1551.1,510.5 1553.1,508.5 1555.1,506.7C1557.1,504.9 1559.1,502.5 1561.1,500.7C1563.1,498.9 1565.1,497.5 1567.1,495.9C1568.9,494.5 1570.7,491.7 1572.5,491.7C1573.7,491.7 1574.9,493.4 1576.1,494.7C1577.3,496.0 1578.5,500.7 1579.7,500.7C1581.7,500.7 1583.7,500.7 1585.7,500.7C1586.9,500.7 1588.1,505.5 1589.3,506.7C1591.1,508.5 1592.9,508.0 1594.7,510.3C1595.5,511.3 1596.3,517.2 1597.1,519.9C1597.9,522.6 1598.7,527.1 1599.5,527.1C1600.3,527.1 1601.1,521.1 1601.9,521.1C1602.9,521.1 1603.9,525.1 1604.9,525.5C1605.6,525.8 1606.3,526.0 1607.0,526.0C1607.9,526.0 1608.7,526.0 1609.6,526.0" fill="none" stroke="#ff0000" stroke-width="9.00" stroke-linejoin="round" stroke-linecap="butt"/>
<path d="M126.0,97.0C131.5,97.2 137.0,97.2 142.5,97.5C145.8,97.7 149.2,100.0 152.5,100.0C156.7,100.0 160.8,98.2 165.0,97.5C169.2,96.8 173.3,96.5 177.5,95.5C180.4,94.8 183.3,91.2 186.2,91.2C190.0,91.2 193.8,93.8 197.5,93.8C200.8,93.8 204.2,93.2 207.5,93.2C210.0,93.2 212.5,98.8 215.0,98.8C218.8,98.8 222.5,98.2 226.2,97.0C227.7,96.5 229.1,88.0 230.5,88.0C232.4,88.0 234.3,97.6 236.2,98.2C240.0,99.4 243.8,99.2 247.5,100.0C250.4,100.6 253.3,101.7 256.2,103.0C258.2,103.8 260.1,104.1 262.0,106.2C263.0,107.3 264.0,116.7 265.0,120.0C266.7,125.5 268.3,127.3 270.0,132.5C271.5,137.2 273.0,148.2 274.5,151.2C276.8,155.9 279.0,158.5 281.2,160.0C284.2,161.9 287.1,163.8 290.0,163.8C292.1,163.8 294.2,159.5 296.2,158.8C300.8,157.1 305.4,157.0 310.0,155.8C314.6,154.5 319.2,150.8 323.8,150.8C327.9,150.8 332.1,151.8 336.2,151.8C339.2,151.8 342.1,142.5 345.0,142.5C347.5,142.5 350.0,143.0 352.5,143.0C355.0,143.0 357.5,140.5 360.0,140.5C362.1,140.5 364.2,144.2 366.2,144.2C368.8,144.2 371.2,135.0 373.8,135.0C376.2,135.0 378.8,135.0 381.2,135.0C382.9,135.0 384.6,130.3 386.2,129.2C390.0,127.0 393.8,125.9 397.5,125.0C402.5,123.8 407.5,122.5 412.5,122.5C416.7,122.5 420.8,122.5 425.0,122.5C430.8,122.5 436.7,121.4 442.5,120.5C447.5,119.7 452.5,117.6 457.5,117.0C463.3,116.3 469.2,115.9 475.0,115.5C481.7,115.1 488.3,114.5 495.0,114.5C500.1,114.5 505.3,115.0 510.4,115.7C513.3,116.1 516.2,116.8 519.1,118.1C521.4,119.1 523.7,122.5 526.0,125.9C527.7,128.4 529.5,133.0 531.2,136.3C532.9,139.6 534.7,144.6 536.4,145.5C538.7,146.7 541.1,146.6 543.4,147.6C545.4,148.5 547.5,150.3 549.5,152.8C550.9,154.6 552.4,160.2 553.8,161.5C555.0,162.5 556.1,163.5 557.3,163.5C558.4,163.5 559.6,162.2 560.7,160.6C561.9,159.0 563.0,151.8 564.2,147.6C565.4,143.4 566.5,138.4 567.7,135.4C569.1,131.7 570.6,128.6 572.0,126.8C574.0,124.3 576.1,122.8 578.1,121.6C581.6,119.6 585.0,118.7 588.5,117.2C591.7,115.9 594.8,113.7 598.0,113.2C602.9,112.5 607.9,112.4 612.8,112.0C620.3,111.4 627.8,111.0 635.3,110.3C642.3,109.6 649.2,108.1 656.2,107.3C661.1,106.7 666.0,105.9 670.9,105.9C674.1,105.9 677.3,109.4 680.5,109.4C685.1,109.4 689.7,108.8 694.3,108.5C701.8,108.0 709.4,107.5 716.9,106.8C725.6,106.0 734.2,103.4 742.9,103.3C748.7,103.2 754.5,103.3 760.3,103.2C766.1,103.1 771.8,102.7 777.6,102.1C780.5,101.8 783.4,100.7 786.3,100.7C787.9,100.7 789.6,105.6 791.2,107.5C793.3,109.9 795.4,112.1 797.5,113.8C799.6,115.4 801.7,118.0 803.8,118.0C805.8,118.0 807.9,113.0 810.0,113.0C811.7,113.0 813.3,119.5 815.0,119.5C817.5,119.5 820.0,117.6 822.5,116.2C825.8,114.4 829.2,109.9 832.5,108.0C836.2,105.8 840.0,103.6 843.8,103.0C850.0,102.0 856.2,101.9 862.5,101.2C866.7,100.8 870.8,100.0 875.0,100.0C876.2,100.0 877.5,105.0 878.8,105.0C880.4,105.0 882.1,88.8 883.8,88.8C886.7,88.8 889.6,90.4 892.5,92.0C895.0,93.3 897.5,98.0 900.0,98.8C902.5,99.5 905.0,99.5 907.5,100.0C910.4,100.6 913.3,101.5 916.2,102.5C920.0,103.7 923.8,107.0 927.5,107.0C930.8,107.0 934.2,102.4 937.5,101.2C940.8,100.1 944.2,98.8 947.5,98.8C950.0,98.8 952.5,103.0 955.0,103.0C957.5,103.0 960.0,98.2 962.5,98.2C966.7,98.2 970.8,99.3 975.0,99.5C983.3,99.9 991.7,99.7 1000.0,100.2C1003.6,100.4 1007.2,101.2 1010.8,102.3C1013.8,103.2 1016.8,104.4 1019.8,107.7C1021.0,109.0 1022.2,112.6 1023.4,117.6C1024.3,121.4 1025.2,132.2 1026.1,139.1C1027.0,146.0 1027.9,155.7 1028.8,158.9C1030.0,163.1 1031.2,167.0 1032.4,167.0C1033.9,167.0 1035.4,164.4 1036.9,160.7C1037.8,158.5 1038.7,145.0 1039.6,140.9C1040.8,135.4 1042.0,129.2 1043.2,129.2C1044.5,129.2 1045.8,131.7 1047.1,135.5C1047.9,137.9 1048.7,149.1 1049.5,158.9C1050.4,169.9 1051.3,187.4 1052.2,203.9C1052.8,214.9 1053.4,223.7 1054.0,239.9C1054.5,253.4 1055.0,286.1 1055.5,300.0C1056.5,327.7 1057.5,338.9 1058.5,360.0C1060.3,397.3 1062.0,449.8 1063.8,479.9C1065.6,510.5 1067.4,553.5 1069.2,553.5C1070.7,553.5 1072.2,510.3 1073.7,479.9C1075.2,449.5 1076.7,400.1 1078.2,360.0C1078.8,344.0 1079.4,325.5 1080.0,311.8C1080.6,298.1 1081.2,285.5 1081.8,275.8C1082.7,261.2 1083.6,247.5 1084.5,239.9C1085.7,229.8 1086.9,224.8 1088.1,218.3C1089.3,211.8 1090.5,202.1 1091.7,200.3C1093.5,197.6 1095.3,197.1 1097.1,195.8C1099.5,194.1 1101.9,194.1 1104.3,191.3C1105.5,189.9 1106.7,182.1 1107.9,176.9C1109.4,170.4 1110.9,161.4 1112.4,155.3C1114.5,146.8 1116.6,138.8 1118.7,133.7C1121.1,127.9 1123.5,122.9 1125.9,120.3C1129.5,116.3 1133.1,113.5 1136.7,112.2C1140.3,110.9 1143.9,110.7 1147.5,109.5C1149.9,108.7 1152.3,106.8 1154.7,106.4C1158.9,105.6 1163.1,105.0 1167.3,105.0C1170.0,105.0 1172.7,106.0 1175.4,107.7C1176.9,108.6 1178.4,112.1 1179.9,117.6C1180.8,120.9 1181.7,131.5 1182.6,140.9C1183.5,150.3 1184.4,164.9 1185.3,176.9C1186.2,188.9 1187.1,201.3 1188.0,212.9C1189.2,228.4 1190.4,242.8 1191.6,257.8C1192.8,272.8 1194.0,287.3 1195.2,302.8C1196.1,314.4 1197.0,328.7 1197.9,338.8C1198.6,346.7 1199.3,359.5 1200.0,359.5C1201.0,359.5 1202.0,344.8 1203.0,340.0C1204.0,335.3 1204.9,328.8 1205.9,328.8C1206.8,328.8 1207.6,335.1 1208.5,338.0C1209.4,341.1 1210.4,346.6 1211.3,346.6C1212.2,346.6 1213.1,334.3 1214.0,325.0C1214.6,318.8 1215.2,310.5 1215.8,300.0C1216.4,289.5 1217.0,269.6 1217.6,257.8C1218.5,240.1 1219.4,226.2 1220.3,212.9C1221.2,199.6 1222.1,185.7 1223.0,176.9C1224.2,165.2 1225.4,154.6 1226.6,149.9C1228.4,142.9 1230.2,136.4 1232.0,136.4C1233.2,136.4 1234.4,142.7 1235.6,149.9C1236.5,155.3 1237.4,177.9 1238.3,185.9C1239.2,193.9 1240.1,203.9 1241.0,203.9C1241.9,203.9 1242.8,191.3 1243.7,185.9C1244.9,178.6 1246.1,166.1 1247.3,166.1C1248.5,166.1 1249.7,173.5 1250.9,176.9C1251.8,179.4 1252.7,184.1 1253.6,184.1C1254.8,184.1 1256.0,179.8 1257.2,176.9C1258.7,173.3 1260.2,163.4 1261.7,163.4C1262.9,163.4 1264.1,175.5 1265.3,185.9C1266.2,193.7 1267.1,207.3 1268.0,221.9C1268.6,231.6 1269.2,250.2 1269.8,257.8C1270.7,269.3 1271.6,282.1 1272.5,282.1C1273.7,282.1 1274.9,273.3 1276.1,266.8C1277.3,260.3 1278.5,245.3 1279.7,239.9C1280.9,234.6 1282.0,228.5 1283.2,228.5C1284.3,228.5 1285.4,239.7 1286.5,250.0C1287.5,259.3 1288.5,286.8 1289.5,298.0C1290.7,311.1 1291.8,328.0 1293.0,328.0C1294.3,328.0 1295.5,315.0 1296.8,300.0C1297.5,291.7 1298.2,265.0 1298.9,249.8C1299.6,234.6 1300.3,215.2 1301.0,207.9C1302.0,197.1 1303.1,189.5 1304.1,186.9C1305.5,183.3 1306.9,183.5 1308.3,180.6C1309.4,178.4 1310.4,173.5 1311.5,170.1C1312.9,165.7 1314.3,159.7 1315.7,157.5C1317.8,154.2 1319.9,151.7 1322.0,151.2C1324.4,150.6 1326.9,150.2 1329.3,150.2C1331.1,150.2 1332.8,152.3 1334.6,152.3C1336.0,152.3 1337.4,147.9 1338.8,144.9C1340.0,142.4 1341.1,135.5 1342.3,135.5C1343.9,135.5 1345.5,142.8 1347.1,142.8C1348.5,142.8 1349.9,142.8 1351.3,142.8C1353.1,142.8 1354.8,136.4 1356.6,134.4C1359.0,131.6 1361.5,130.5 1363.9,128.1C1366.7,125.4 1369.5,121.3 1372.3,118.7C1374.1,117.1 1375.8,114.5 1377.6,114.5C1379.0,114.5 1380.4,119.7 1381.8,123.9C1382.8,127.0 1383.9,137.6 1384.9,137.6C1386.2,137.6 1387.4,136.7 1388.7,135.5C1389.9,134.3 1391.1,124.4 1392.3,121.8C1394.7,116.4 1397.2,115.4 1399.6,111.3C1401.0,108.9 1402.4,104.1 1403.8,102.9C1407.3,99.9 1410.8,99.4 1414.3,97.7C1417.1,96.3 1419.9,93.5 1422.7,93.5C1424.4,93.5 1426.2,94.7 1427.9,96.7C1429.0,97.9 1430.0,106.6 1431.1,111.3C1432.3,116.7 1433.6,125.6 1434.8,127.1C1436.4,128.9 1437.9,130.2 1439.5,130.2C1440.7,130.2 1442.0,121.7 1443.2,119.7C1444.4,117.7 1445.6,115.5 1446.8,115.5C1448.5,115.5 1450.3,118.7 1452.0,118.7C1454.5,118.7 1456.9,116.7 1459.4,114.5C1460.8,113.2 1462.2,107.7 1463.6,107.1C1465.0,106.5 1466.4,106.1 1467.8,106.1C1469.5,106.1 1471.3,109.6 1473.0,113.4C1474.4,116.5 1475.8,127.3 1477.2,132.3C1478.6,137.3 1480.0,144.9 1481.4,144.9C1482.8,144.9 1484.2,143.3 1485.6,140.7C1486.7,138.7 1487.7,117.0 1488.8,113.4C1490.0,109.5 1491.1,106.1 1492.3,106.1C1493.9,106.1 1495.6,111.9 1497.2,117.6C1498.6,122.5 1500.0,136.2 1501.4,144.9C1502.8,153.6 1504.2,163.2 1505.6,170.1C1506.8,175.8 1507.9,184.8 1509.1,184.8C1510.4,184.8 1511.6,177.8 1512.9,170.1C1513.9,163.8 1515.0,136.7 1516.0,130.2C1517.4,121.4 1518.8,116.3 1520.2,113.4C1522.0,109.7 1523.7,106.1 1525.5,106.1C1527.2,106.1 1529.0,108.9 1530.7,110.3C1533.5,112.5 1536.3,116.3 1539.1,116.6C1543.0,117.0 1546.8,116.8 1550.7,117.2C1554.2,117.5 1557.7,121.8 1561.2,121.8C1564.0,121.8 1566.8,117.5 1569.6,115.5C1571.7,114.0 1573.8,111.3 1575.9,111.3C1578.0,111.3 1580.0,113.8 1582.1,115.5C1584.2,117.2 1586.3,118.7 1588.4,121.8C1590.5,124.9 1592.6,130.3 1594.7,138.6C1595.8,142.8 1596.8,156.0 1597.9,159.6C1599.3,164.4 1600.7,166.7 1602.1,169.0C1603.4,171.1 1604.7,173.6 1606.0,174.0C1607.2,174.3 1608.3,174.4 1609.5,174.6" fill="none" stroke="#000" stroke-width="9.00" stroke-linejoin="round" stroke-linecap="butt"/>
<g fill="#000" shape-rendering="crispEdges">
<rect x="124.2" y="1318.1" width="1484.5" height="4.2"/>
<rect x="124.2" y="1320.2" width="4.4" height="24.8"/>
<rect x="288.7" y="1320.2" width="4.4" height="24.8"/>
<rect x="453.1" y="1320.2" width="4.4" height="24.8"/>
<rect x="617.5" y="1320.2" width="4.4" height="24.8"/>
<rect x="782.0" y="1320.2" width="4.4" height="24.8"/>
<rect x="946.4" y="1320.2" width="4.4" height="24.8"/>
<rect x="1110.9" y="1320.2" width="4.4" height="24.8"/>
<rect x="1275.3" y="1320.2" width="4.4" height="24.8"/>
<rect x="1439.8" y="1320.2" width="4.4" height="24.8"/>
<rect x="1604.2" y="1320.2" width="4.4" height="24.8"/>
<rect x="1064.1" y="1238" width="5.0" height="82.2"/>
<rect x="1103.1" y="1238" width="4.8" height="82.2"/>
<rect x="1147.0" y="1238" width="3.9" height="82.2"/>
</g>
<polygon points="1066.5,1208.8 1050.9,1240 1082.1,1240" fill="#000"/>
<polygon points="1105.5,1208.8 1089.9,1240 1121.1,1240" fill="#000"/>
<polygon points="1148.7,1208.8 1133.1,1240 1164.3,1240" fill="#000"/>
<text transform="translate(0,81.75) scale(0.9000,1)" font-size="82.60" x="881.13 928.53 981.14" stroke="#000" stroke-width="0.70" stroke-linejoin="round">PSI</text>
<text transform="translate(0,406.80) scale(0.9000,1)" font-size="82.60" x="768.30 815.70 868.30 893.41 923.01 981.29 1044.08" stroke="#000" stroke-width="0.70" stroke-linejoin="round">PSI-AAm</text>
<text transform="translate(0,742.10) scale(0.9000,1)" font-size="82.60" x="742.63 790.03 842.64 867.75 897.34 955.62 1018.41 1095.88" stroke="#000" stroke-width="0.70" stroke-linejoin="round">PSI-AAmp</text>
<text transform="translate(0,1636.90) scale(0.9513,1)" font-size="82.60" x="531.65 607.54 655.19 697.73 746.10 795.67 846.75 921.35 969.82 1020.20 1044.04 1067.87 1096.95 1141.02" stroke="#000" stroke-width="0.70" stroke-linejoin="round">Wavenumber (cm<tspan font-size="56.54" dy="-25.9" x="1213.02 1232.32">-1</tspan><tspan dy="25.9" x="1266.82">)</tspan></text>
<text transform="translate(90.20,938) rotate(-90) scale(0.8856,1)" font-size="82.60" x="-0.03 48.15 75.82 128.84 178.36 223.47 302.14 324.85 358.38 385.43 439.91 490.12 534.78 569.89 605.00 633.80 711.71" stroke="#000" stroke-width="0.70" stroke-linejoin="round">Transmittance (%)</text>
<text transform="translate(113.20,1435.70) rotate(30.00) scale(1.0380,1)" font-size="70.00" stroke="#000" stroke-width="1.60" stroke-linejoin="round">4000</text>
<text transform="translate(277.65,1435.70) rotate(30.00) scale(1.0380,1)" font-size="70.00" stroke="#000" stroke-width="1.60" stroke-linejoin="round">3600</text>
<text transform="translate(442.10,1435.70) rotate(30.00) scale(1.0380,1)" font-size="70.00" stroke="#000" stroke-width="1.60" stroke-linejoin="round">3200</text>
<text transform="translate(606.55,1435.70) rotate(30.00) scale(1.0380,1)" font-size="70.00" stroke="#000" stroke-width="1.60" stroke-linejoin="round">2800</text>
<text transform="translate(771.00,1435.70) rotate(30.00) scale(1.0380,1)" font-size="70.00" stroke="#000" stroke-width="1.60" stroke-linejoin="round">2400</text>
<text transform="translate(935.45,1435.70) rotate(30.00) scale(1.0380,1)" font-size="70.00" stroke="#000" stroke-width="1.60" stroke-linejoin="round">2000</text>
<text transform="translate(1099.90,1435.70) rotate(30.00) scale(1.0380,1)" font-size="70.00" stroke="#000" stroke-width="1.60" stroke-linejoin="round">1600</text>
<text transform="translate(1264.35,1435.70) rotate(30.00) scale(1.0380,1)" font-size="70.00" stroke="#000" stroke-width="1.60" stroke-linejoin="round">1200</text>
<text transform="translate(1428.80,1435.70) rotate(30.00) scale(1.0380,1)" font-size="70.00" stroke="#000" stroke-width="1.60" stroke-linejoin="round">800</text>
<text transform="translate(1593.25,1435.70) rotate(30.00) scale(1.0380,1)" font-size="70.00" stroke="#000" stroke-width="1.60" stroke-linejoin="round">400</text>
</svg></body></html>
